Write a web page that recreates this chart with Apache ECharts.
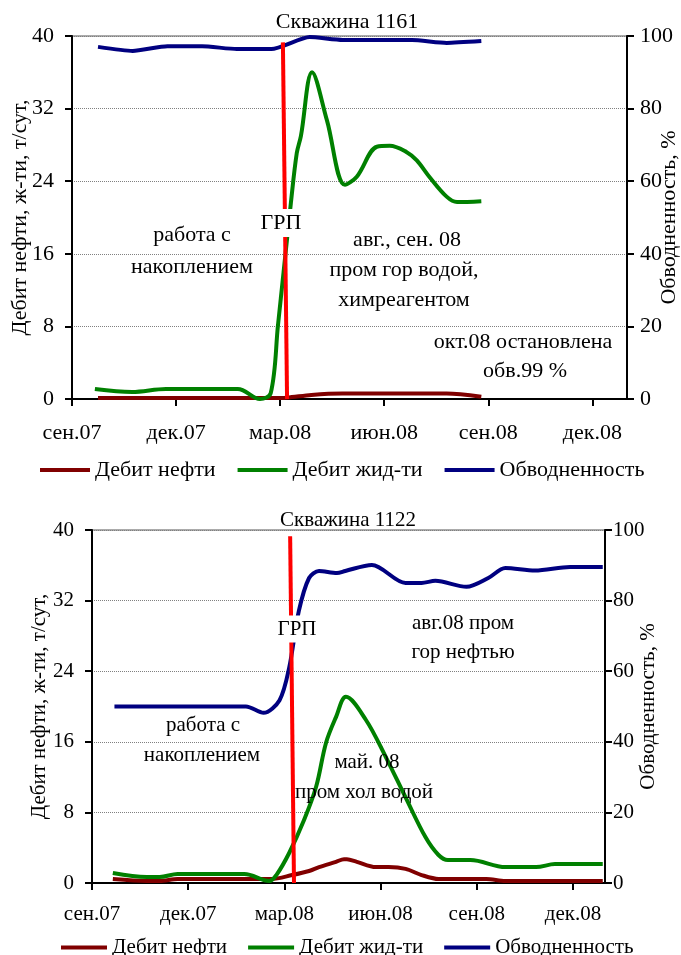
<!DOCTYPE html>
<html><head><meta charset="utf-8">
<script src="https://cdn.jsdelivr.net/npm/echarts@6/dist/echarts.min.js"></script>
<style>html,body{margin:0;padding:0;background:#fff}#c{width:681px;height:955px}</style>
</head><body><div id="c"></div>
<script>
// x = months counted from сен.07 (0) to янв.09 (16)
const tickMonths = [0, 3, 6, 9, 12, 15];
const tickLabels = ['сен.07', 'дек.07', 'мар.08', 'июн.08', 'сен.08', 'дек.08'];
const leftTicks = [0, 8, 16, 24, 32, 40];
const rightTicks = [0, 20, 40, 60, 80, 100];
const seriesNames = ['Дебит нефти', 'Дебит жид-ти', 'Обводненность'];

// Скважина 1161
const oil1161 = [[0.75,0.1],[1.75,0.1],[2.75,0.1],[3.75,0.1],[4.75,0.1],[5.75,0.1],[6.2,0.15],[6.9,0.45],[7.8,0.6],[8.8,0.6],[9.8,0.6],[10.8,0.6],[11.8,0.25]];
const liq1161 = [[0.66,1.1],[1.73,0.77],[2.71,1.1],[3.75,1.1],[4.78,1.1],[5.42,0],[5.73,0.66],[5.94,8.2],[6.1,14],[6.31,21.6],[6.48,27.1],[6.6,29],[6.92,36],[7.35,30.7],[7.87,23.6],[8.21,24.5],[8.79,27.8],[9.16,27.9],[9.65,27.2],[9.94,26.3],[10.3,24.5],[10.8,22.3],[11.1,21.7],[11.8,21.8]];
const wc1161 = [[0.75,97.0],[1.75,95.9],[2.75,97.2],[3.75,97.2],[4.75,96.4],[5.75,96.4],[6.85,99.7],[7.8,98.9],[8.8,98.9],[9.8,98.9],[10.8,98.1],[11.8,98.6]];
const frac1161 = [[6.08,39.3],[6.2,0]];

// Скважина 1122
const oil1122 = [[0.65,0.45],[1.71,0.23],[2.11,0.23],[2.67,0.45],[3.73,0.45],[4.75,0.45],[5.6,0.45],[6.24,0.9],[6.77,1.36],[7.08,1.8],[7.61,2.4],[7.86,2.7],[7.95,2.7],[8.26,2.4],[8.85,1.8],[9.25,1.8],[9.78,1.6],[10.28,0.9],[10.81,0.45],[11.83,0.45],[12.3,0.45],[12.89,0.23],[13.85,0.23],[14.9,0.23],[15.93,0.23]];
const liq1122 = [[0.65,1.13],[1.71,0.68],[2.11,0.68],[2.67,1.02],[3.73,1.02],[4.75,1.02],[5.53,0.23],[5.75,0.9],[6.15,3.4],[6.61,7.1],[6.99,10.9],[7.3,15.9],[7.61,18.8],[7.92,21.1],[8.54,18.5],[9.16,14.3],[9.78,9.7],[10.4,5.2],[10.8,3.2],[11.1,2.6],[11.8,2.6],[12.9,1.8],[13.85,1.8],[14.44,2.15],[14.91,2.15],[15.93,2.15]];
const wc1122 = [[0.7,50],[1.7,50],[2.7,50],[3.7,50],[4.8,50],[5.35,48.2],[5.85,51.8],[6.15,61],[6.45,77],[6.77,86.4],[7.08,88.4],[7.64,87.8],[7.9,88.4],[8.73,90.1],[9.78,85],[10.28,85],[10.71,85.6],[11.68,83.9],[12.36,86.4],[12.89,89.2],[13.82,88.5],[14.91,89.5],[15.93,89.5]];
const frac1122 = [[6.18,39.3],[6.3,0]];

const FONT = "'Liberation Serif', 'Times New Roman', serif";
const FS1 = 22; // upper chart
const FS2 = 21; // lower chart
const colors = { oil: '#800000', liq: '#008000', wc: '#000080', frac: '#ff0000' };

function xAxis(gridIndex, margin, fs) {
  return {
    type: 'value', gridIndex, min: 0, max: 16, interval: 3,
    axisLine: { show: true, onZero: false, lineStyle: { color: '#000', width: 2 } },
    axisTick: { show: true, inside: false, length: 7, customValues: tickMonths, lineStyle: { color: '#000', width: 2 } },
    axisLabel: { customValues: tickMonths, margin, color: '#000', fontFamily: FONT, fontSize: fs,
      formatter: v => { const i = tickMonths.indexOf(Math.round(v)); return i >= 0 ? tickLabels[i] : ''; } },
    splitLine: { show: false }
  };
}
function yLeft(gridIndex, nameGap, fs) {
  return {
    type: 'value', gridIndex, position: 'left', min: 0, max: 40, interval: 8,
    name: 'Дебит нефти, ж-ти, т/сут,', nameLocation: 'middle', nameGap, nameMoveOverlap: false,
    nameTextStyle: { color: '#000', fontFamily: FONT, fontSize: fs },
    axisLine: { show: true, lineStyle: { color: '#000', width: 2 } },
    axisTick: { show: true, inside: false, length: 7, lineStyle: { color: '#000', width: 2 } },
    axisLabel: { margin: 18, color: '#000', fontFamily: FONT, fontSize: fs },
    splitLine: { show: true, lineStyle: { color: '#808080', type: 'dotted', width: 1 } }
  };
}
function yRight(gridIndex, nameGap, margin, fs) {
  return {
    type: 'value', gridIndex, position: 'right', min: 0, max: 100, interval: 20,
    name: 'Обводненность, %', nameLocation: 'middle', nameGap, nameMoveOverlap: false,
    nameTextStyle: { color: '#000', fontFamily: FONT, fontSize: fs },
    axisLine: { show: true, lineStyle: { color: '#000', width: 2 } },
    axisTick: { show: true, inside: false, length: 7, lineStyle: { color: '#000', width: 2 } },
    axisLabel: { margin, color: '#000', fontFamily: FONT, fontSize: fs },
    splitLine: { show: false }
  };
}
function line(name, data, xi, yi, color, smooth) {
  return { type: 'line', name, data, xAxisIndex: xi, yAxisIndex: yi, smooth,
    showSymbol: false, symbol: 'none', lineStyle: { color, width: 4 }, itemStyle: { color }, z: 3 };
}
function txt(text, x, y, fs, bg) {
  const s = { text, x, y, fill: '#000', fontSize: fs, fontFamily: FONT, fontStyle: 'normal',
    align: 'center', verticalAlign: 'middle' };
  if (bg) { s.backgroundColor = '#fff'; s.padding = [3, 2]; }
  return { type: 'text', z: 100, style: s };
}
function legend(left, top, w, gap, fs) {
  return { data: seriesNames, left, top, orient: 'horizontal', itemWidth: w, itemHeight: 4, itemGap: gap,
    icon: 'rect', textStyle: { color: '#000', fontFamily: FONT, fontSize: fs, fontStyle: 'normal' }, selectedMode: false };
}

const chart = echarts.init(document.getElementById('c'), null, { renderer: 'canvas' });
chart.setOption({
  animation: false,
  backgroundColor: '#fff',
  grid: [
    { left: 72, top: 36, width: 555, height: 363, outerBoundsMode: 'none', containLabel: false,
      show: true, borderColor: '#909090', borderWidth: 1.5, backgroundColor: 'transparent' },
    { left: 92, top: 530, width: 513, height: 353, outerBoundsMode: 'none', containLabel: false,
      show: true, borderColor: '#909090', borderWidth: 1.5, backgroundColor: 'transparent' }
  ],
  xAxis: [xAxis(0, 23, FS1), xAxis(1, 21, FS2)],
  yAxis: [yLeft(0, 41, FS1), yRight(0, 31, 13, FS1), yLeft(1, 42, FS2), yRight(1, 33, 8, FS2)],
  legend: [legend(35, 454, 50, 22, FS1), legend(56, 932, 46, 21, FS2)],
  series: [
    line(seriesNames[0], oil1161, 0, 0, colors.oil, 0.3),
    line(seriesNames[1], liq1161, 0, 0, colors.liq, 0.35),
    line(seriesNames[2], wc1161, 0, 1, colors.wc, 0.2),
    line('ГРП 1161', frac1161, 0, 0, colors.frac, false),
    line(seriesNames[0], oil1122, 1, 2, colors.oil, 0.3),
    line(seriesNames[1], liq1122, 1, 2, colors.liq, 0.35),
    line(seriesNames[2], wc1122, 1, 3, colors.wc, 0.3),
    line('ГРП 1122', frac1122, 1, 2, colors.frac, false)
  ],
  graphic: [
    txt('Скважина 1161', 347, 22, FS1),
    txt('работа с', 192, 235, FS1), txt('накоплением', 192, 267, FS1),
    txt('ГРП', 281, 223, FS1, true),
    txt('авг., сен. 08', 407, 240, FS1), txt('пром гор водой,', 404, 270, FS1), txt('химреагентом', 404, 300, FS1),
    txt('окт.08 остановлена', 523, 342, FS1), txt('обв.99 %', 525, 371, FS1),
    txt('Скважина 1122', 348, 520, FS2),
    txt('ГРП', 297, 629, FS2, true),
    txt('авг.08 пром', 463, 623, FS2), txt('гор нефтью', 463, 652, FS2),
    txt('работа с', 203, 725, FS2), txt('накоплением', 202, 755, FS2),
    txt('май. 08', 367, 762, FS2), txt('пром хол водой', 364, 792, FS2)
  ]
});
</script></body></html>
